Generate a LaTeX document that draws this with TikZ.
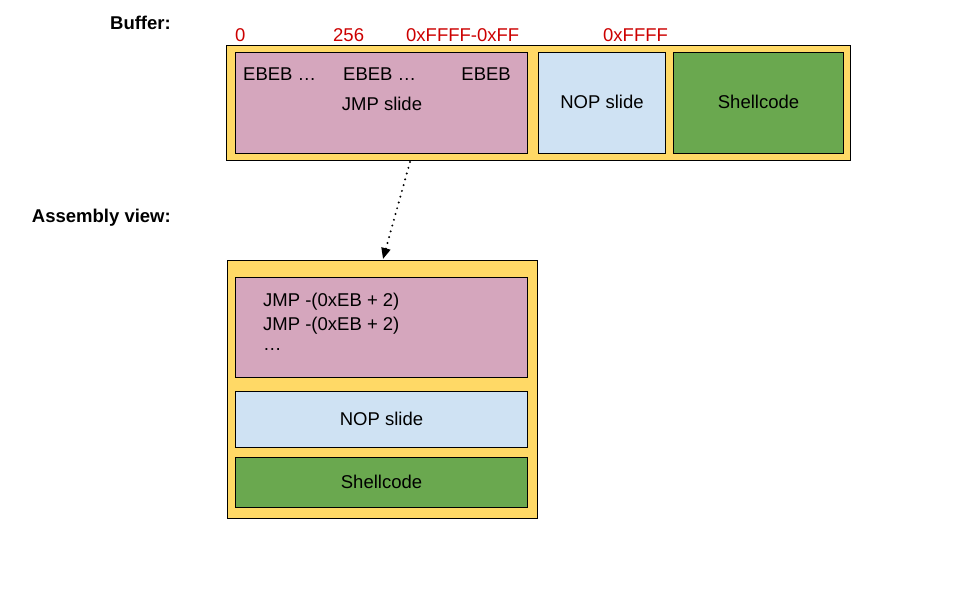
\documentclass[tikz,border=0pt]{standalone}
\usepackage{fontspec}
\setmainfont{Liberation Sans}
\usetikzlibrary{arrows.meta}
\definecolor{cpink}{HTML}{D5A6BD}
\definecolor{cblue}{HTML}{CFE2F3}
\definecolor{cgreen}{HTML}{6AA84F}
\definecolor{cyel}{HTML}{FFD966}
\definecolor{cred}{HTML}{CC0000}
\begin{document}
\begin{tikzpicture}[x=1pt,y=-1pt,
  box/.style={draw=black,line width=1pt},
  txt/.style={font=\fontsize{18.5}{22}\selectfont,inner sep=0pt},
  lbl/.style={font=\bfseries\fontsize{18.5}{22}\selectfont,inner sep=0pt},
  red/.style={txt,text=cred}]
\useasboundingbox (0,0) rectangle (958,594);
% top buffer
\draw[box,fill=cyel] (226,46) rectangle (850,160);
\node[box,fill=cpink,minimum width=292pt,minimum height=101pt,anchor=north west,inner sep=0pt] (jmp) at (235,52) {};
\node[box,fill=cblue,minimum width=127pt,minimum height=101pt,anchor=north west,inner sep=0pt] (nop) at (538,52) {};
\node[box,fill=cgreen,minimum width=170pt,minimum height=101pt,anchor=north west,inner sep=0pt] (sh) at (673,52) {};
\node[txt] (jmpt) at (382,104) {JMP slide};
\node[txt] at ([yshift=1pt]nop.center) {NOP slide};
\node[txt] at ([yshift=1pt]sh.center) {Shellcode};
\node[txt,anchor=west] (e1) at (243,74) {EBEB …};
\node[txt,anchor=west] (e2) at (343,74) {EBEB …};
\node[txt,anchor=east] (e3) at (511,74) {EBEB};
\node[red,anchor=west] (r0) at (235,35) {0};
\node[red,anchor=west] (r1) at (333,35) {256};
\node[red,anchor=west] (r2) at (406,35) {0xFFFF-0xFF};
\node[red,anchor=west] (r3) at (603,35) {0xFFFF};
\node[lbl,anchor=east] (buf) at (171,23) {Buffer:};
\node[lbl,anchor=east] (asm) at (171,218) {Assembly view:};
% bottom
\draw[box,fill=cyel] (227,260) rectangle (537,518);
\node[box,fill=cpink,minimum width=292pt,minimum height=100pt,anchor=north west,inner sep=0pt] (ajmp) at (235,277) {};
\node[box,fill=cblue,minimum width=292pt,minimum height=56pt,anchor=north west,inner sep=0pt] (anop) at (235,391) {};
\node[box,fill=cgreen,minimum width=292pt,minimum height=50pt,anchor=north west,inner sep=0pt] (ash) at (235,457) {};
\node[txt,anchor=west] (l1) at (263,302) {JMP -(0xEB + 2)};
\node[txt,anchor=west] (l2) at (263,326) {JMP -(0xEB + 2)};
\node[txt,anchor=west] (l3) at (263,350) {…};
\node[txt] at ([yshift=1pt]anop.center) {NOP slide};
\node[txt] at ([yshift=1pt]ash.center) {Shellcode};
\coordinate (a0) at (410,162);
\coordinate (a1) at (383,259);
\draw[line width=2.2pt,line cap=round,dash pattern=on 0pt off 6pt,-{Triangle[width=9pt,length=11pt,line cap=butt]}] (a0) -- (a1);
\end{tikzpicture}
\end{document}
